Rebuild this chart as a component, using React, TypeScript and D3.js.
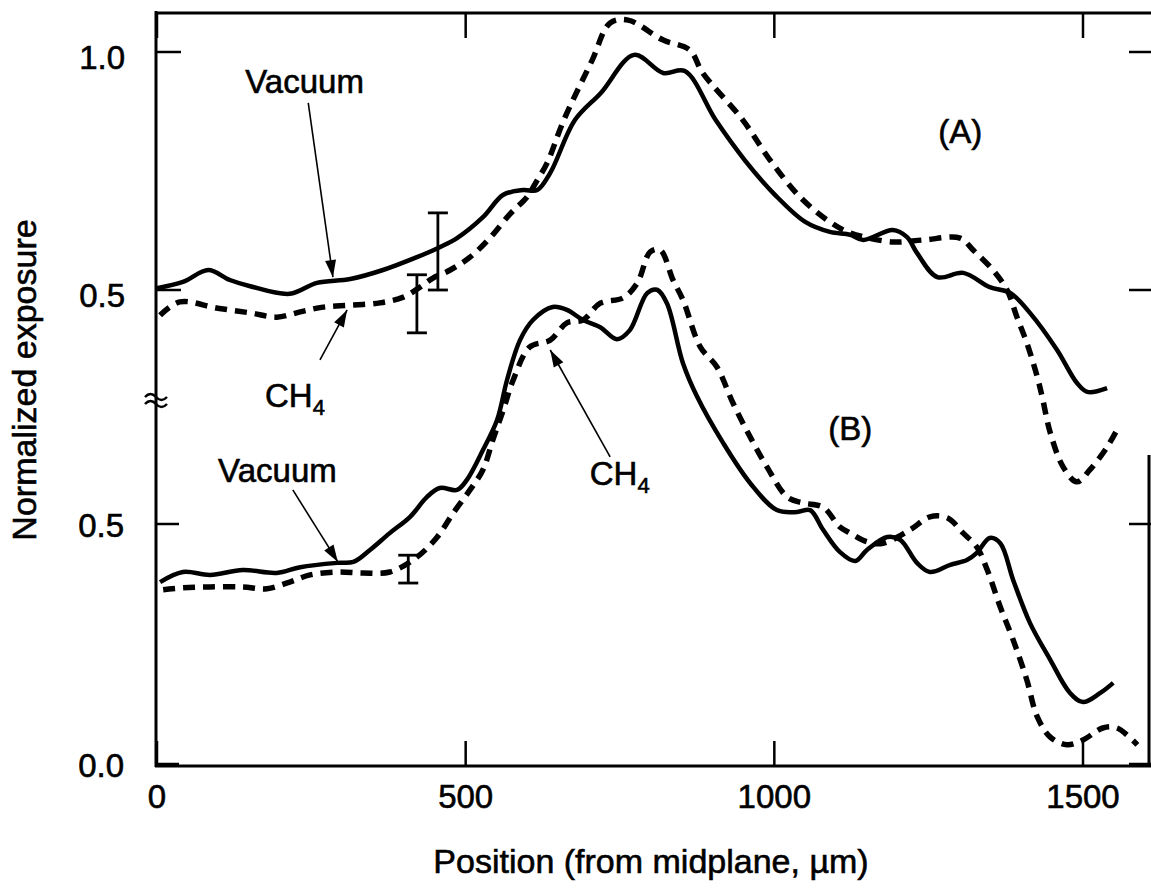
import React, { useEffect, useRef } from 'react';
import * as d3 from 'd3';

// (A) upper panel, position in um and normalized exposure
const posVacA = [0, 42, 83, 118, 151, 215, 259, 313, 366, 421, 458, 486, 528, 561, 593, 616, 637, 677, 719, 773, 820, 855, 905, 952, 1001, 1050, 1090, 1123, 1144, 1192, 1215, 1231, 1264, 1306, 1349, 1382, 1414, 1458, 1490, 1507, 1539];
const valVacA = [0.504, 0.517, 0.542, 0.521, 0.508, 0.492, 0.515, 0.523, 0.542, 0.569, 0.590, 0.609, 0.653, 0.700, 0.710, 0.710, 0.746, 0.857, 0.914, 0.994, 0.956, 0.960, 0.857, 0.773, 0.700, 0.643, 0.622, 0.616, 0.605, 0.626, 0.611, 0.578, 0.527, 0.536, 0.506, 0.494, 0.452, 0.374, 0.305, 0.286, 0.294];

const posCh4A = [5, 37, 97, 151, 194, 232, 269, 313, 361, 399, 426, 447, 475, 507, 539, 572, 599, 616, 632, 659, 705, 734, 763, 820, 863, 884, 949, 993, 1042, 1090, 1123, 1192, 1241, 1301, 1322, 1354, 1377, 1393, 1409, 1426, 1434, 1447, 1468, 1490, 1511, 1539, 1555];
const valCh4A = [0.447, 0.475, 0.462, 0.452, 0.443, 0.454, 0.464, 0.468, 0.473, 0.485, 0.506, 0.525, 0.542, 0.569, 0.609, 0.660, 0.695, 0.731, 0.767, 0.857, 0.983, 1.061, 1.067, 1.025, 1.004, 0.956, 0.857, 0.773, 0.695, 0.643, 0.620, 0.601, 0.605, 0.609, 0.584, 0.542, 0.500, 0.443, 0.389, 0.317, 0.275, 0.200, 0.128, 0.097, 0.122, 0.170, 0.206];

// (B) lower panel
const posVacB = [5, 42, 86, 139, 194, 232, 292, 318, 345, 377, 410, 437, 458, 486, 502, 528, 551, 567, 588, 609, 641, 664, 690, 718, 745, 766, 794, 810, 826, 852, 875, 917, 961, 1004, 1037, 1058, 1079, 1106, 1131, 1150, 1183, 1204, 1231, 1252, 1285, 1312, 1328, 1349, 1366, 1387, 1414, 1447, 1479, 1500, 1528, 1549];
const valVacB = [0.379, 0.400, 0.394, 0.404, 0.398, 0.410, 0.419, 0.421, 0.446, 0.481, 0.515, 0.556, 0.575, 0.571, 0.592, 0.654, 0.717, 0.800, 0.883, 0.925, 0.952, 0.946, 0.925, 0.910, 0.885, 0.904, 0.981, 0.988, 0.960, 0.835, 0.765, 0.669, 0.585, 0.529, 0.525, 0.529, 0.488, 0.442, 0.423, 0.446, 0.473, 0.467, 0.419, 0.400, 0.415, 0.425, 0.440, 0.471, 0.460, 0.383, 0.294, 0.217, 0.148, 0.129, 0.148, 0.169];

const posCh4B = [10, 42, 86, 139, 178, 215, 248, 292, 334, 377, 421, 454, 480, 507, 528, 544, 561, 577, 604, 637, 664, 690, 718, 755, 778, 799, 815, 836, 852, 880, 907, 933, 961, 988, 1021, 1046, 1079, 1106, 1123, 1150, 1176, 1220, 1252, 1280, 1306, 1328, 1345, 1366, 1387, 1409, 1426, 1447, 1474, 1500, 1532, 1555, 1588];
const valCh4B = [0.363, 0.367, 0.369, 0.369, 0.365, 0.379, 0.394, 0.400, 0.398, 0.400, 0.431, 0.473, 0.523, 0.571, 0.613, 0.675, 0.738, 0.800, 0.869, 0.883, 0.919, 0.925, 0.960, 0.971, 1.002, 1.067, 1.071, 1.008, 0.967, 0.869, 0.827, 0.752, 0.681, 0.619, 0.556, 0.544, 0.535, 0.494, 0.481, 0.463, 0.460, 0.488, 0.515, 0.513, 0.481, 0.452, 0.404, 0.327, 0.258, 0.175, 0.098, 0.056, 0.040, 0.050, 0.075, 0.075, 0.040];

// error bars: position, low, high
const errA = [[455, 0.50, 0.662], [421, 0.41, 0.532]];
const errB = [[407, 0.377, 0.435]];

const xTicks = [0, 500, 1000, 1500];
const yTicksA = [0.5, 1.0];
const yTicksB = [0.0, 0.5];

const App: React.FC = () => {
  const svgRef = useRef<SVGSVGElement>(null);

  useEffect(() => {
    if (!svgRef.current) return;
    const W = 1151, H = 888;
    const left = 156, right = 1149, top = 13, bottom = 766;
    const font = '"Liberation Sans", Arial, Helvetica, sans-serif';

    const svg = d3.select(svgRef.current);
    svg.selectAll('*').remove();
    svg.attr('width', W).attr('height', H);

    const x = d3.scaleLinear().domain([0, 1500]).range([157, 1083]);
    const yA = d3.scaleLinear().domain([0.5, 1.0]).range([290, 52]);
    const yB = d3.scaleLinear().domain([0, 0.5]).range([764, 524]);

    // frame
    const frame = svg.append('g').attr('stroke', '#000').attr('stroke-width', 3).attr('fill', 'none');
    frame.append('line').attr('x1', left).attr('x2', W).attr('y1', top).attr('y2', top);
    frame.append('line').attr('x1', left).attr('x2', left).attr('y1', top - 2).attr('y2', bottom + 1);
    frame.append('line').attr('x1', left - 1).attr('x2', W).attr('y1', bottom).attr('y2', bottom);
    frame.append('line').attr('x1', right).attr('x2', right).attr('y1', 455).attr('y2', bottom);

    // ticks (inward)
    const tk = svg.append('g').attr('stroke', '#000').attr('stroke-width', 2.5);
    xTicks.forEach(v => {
      tk.append('line').attr('x1', x(v)).attr('x2', x(v)).attr('y1', bottom).attr('y2', bottom - 25);
      tk.append('line').attr('x1', x(v)).attr('x2', x(v)).attr('y1', top).attr('y2', top + 25);
    });
    yTicksA.forEach(v => {
      tk.append('line').attr('x1', left).attr('x2', left + 25).attr('y1', yA(v)).attr('y2', yA(v));
      tk.append('line').attr('x1', right - 20).attr('x2', W).attr('y1', yA(v)).attr('y2', yA(v));
    });
    yTicksB.forEach(v => {
      tk.append('line').attr('x1', left).attr('x2', left + 23).attr('y1', yB(v)).attr('y2', yB(v));
      tk.append('line').attr('x1', right - 20).attr('x2', W).attr('y1', yB(v)).attr('y2', yB(v));
    });

    // axis break mark
    const brk = svg.append('g').attr('stroke', '#000').attr('stroke-width', 2.5).attr('fill', 'none');
    [396, 403].forEach(yy => {
      brk.append('path').attr('d', `M${left - 11},${yy + 1} q5.5,-6 11,0 t11,0`);
    });

    // tick labels
    const lab = svg.append('g').attr('font-family', font).attr('font-size', 33).attr('fill', '#000')
      .attr('stroke', '#000').attr('stroke-width', 0.6);
    xTicks.forEach(v => {
      lab.append('text').attr('x', x(v)).attr('y', 808).attr('text-anchor', 'middle').text(String(v));
    });
    yTicksA.forEach(v => {
      lab.append('text').attr('x', 125).attr('y', yA(v) + 5).attr('text-anchor', 'end')
        .attr('dominant-baseline', 'central').text(v.toFixed(1));
    });
    yTicksB.forEach(v => {
      lab.append('text').attr('x', 124).attr('y', yB(v) + 1).attr('text-anchor', 'end')
        .attr('dominant-baseline', 'central').text(v.toFixed(1));
    });

    // axis titles
    svg.append('text')
      .attr('x', 651).attr('y', 873).attr('text-anchor', 'middle')
      .attr('font-family', font).attr('font-size', 34)
      .attr('stroke', '#000').attr('stroke-width', 0.6)
      .text('Position (from midplane, \u00b5m)');
    svg.append('text')
      .attr('transform', 'translate(36,380) rotate(-90)')
      .attr('text-anchor', 'middle')
      .attr('font-family', font).attr('font-size', 34)
      .attr('stroke', '#000').attr('stroke-width', 0.6)
      .text('Normalized exposure');

    // curves
    const lineA = d3.line<number[]>().x(d => x(d[0])).y(d => yA(d[1])).curve(d3.curveCatmullRom.alpha(0.5));
    const lineB = d3.line<number[]>().x(d => x(d[0])).y(d => yB(d[1])).curve(d3.curveCatmullRom.alpha(0.5));
    const zip = (p: number[], v: number[]) => p.map((d, i) => [d, v[i]]);

    const curves = svg.append('g').attr('fill', 'none').attr('stroke', '#000')
      .attr('stroke-linejoin', 'round');
    curves.append('path').attr('d', lineA(zip(posVacA, valVacA))).attr('stroke-width', 4.5);
    curves.append('path').attr('d', lineA(zip(posCh4A, valCh4A))).attr('stroke-width', 5.5)
      .attr('stroke-dasharray', '12,8');
    curves.append('path').attr('d', lineB(zip(posVacB, valVacB))).attr('stroke-width', 4.5);
    curves.append('path').attr('d', lineB(zip(posCh4B, valCh4B))).attr('stroke-width', 5.5)
      .attr('stroke-dasharray', '12,8');

    // error bars
    const eb = svg.append('g').attr('stroke', '#000').attr('stroke-width', 2.8);
    const drawErr = (rows: number[][], y: d3.ScaleLinear<number, number>) => {
      rows.forEach(([p, lo, hi]) => {
        const cx = x(p);
        eb.append('line').attr('x1', cx).attr('x2', cx).attr('y1', y(lo)).attr('y2', y(hi));
        eb.append('line').attr('x1', cx - 10).attr('x2', cx + 10).attr('y1', y(lo)).attr('y2', y(lo));
        eb.append('line').attr('x1', cx - 10).attr('x2', cx + 10).attr('y1', y(hi)).attr('y2', y(hi));
      });
    };
    drawErr(errA, yA);
    drawErr(errB, yB);

    // annotations with arrows
    const ann = svg.append('g');
    const arrow = (x1: number, y1: number, x2: number, y2: number) => {
      ann.append('line').attr('x1', x1).attr('y1', y1).attr('x2', x2).attr('y2', y2)
        .attr('stroke', '#000').attr('stroke-width', 1.6);
      const a = Math.atan2(y2 - y1, x2 - x1);
      const len = 17, hw = 5.5;
      const bx = x2 - len * Math.cos(a), by = y2 - len * Math.sin(a);
      const px = -Math.sin(a) * hw, py = Math.cos(a) * hw;
      ann.append('path')
        .attr('d', `M${x2},${y2} L${bx + px},${by + py} L${bx - px},${by - py} Z`)
        .attr('fill', '#000');
    };
    const label = (tx: number, ty: number, main: string, sub?: string) => {
      const t = ann.append('text').attr('x', tx).attr('y', ty)
        .attr('font-family', font).attr('font-size', 33).attr('fill', '#000')
        .attr('stroke', '#000').attr('stroke-width', 0.6);
      t.append('tspan').text(main);
      if (sub) t.append('tspan').attr('font-size', 22).attr('dy', 8).text(sub);
    };

    label(x(143), yA(0.914), 'Vacuum');
    arrow(x(245), yA(0.893), x(285), yA(0.527));
    label(x(175), yA(0.254), 'CH', '4');
    arrow(x(264), yA(0.353), x(308), yA(0.458));

    label(x(99), yB(0.5875), 'Vacuum');
    arrow(x(220), yB(0.571), x(293), yB(0.421));
    label(x(701), yB(0.581), 'CH', '4');
    arrow(x(734), yB(0.640), x(637), yB(0.8625));

    ann.append('text').attr('x', x(1301)).attr('y', yA(0.834)).attr('text-anchor', 'middle')
      .attr('dominant-baseline', 'central').attr('font-family', font).attr('font-size', 33)
      .attr('stroke', '#000').attr('stroke-width', 0.6).text('(A)');
    ann.append('text').attr('x', x(1123)).attr('y', yB(0.7)).attr('text-anchor', 'middle')
      .attr('dominant-baseline', 'central').attr('font-family', font).attr('font-size', 33)
      .attr('stroke', '#000').attr('stroke-width', 0.6).text('(B)');
  }, []);

  return (
    <svg ref={svgRef} style={{ position: 'absolute', left: 0, top: 0, background: '#fff' }}></svg>
  );
};

export default App;
